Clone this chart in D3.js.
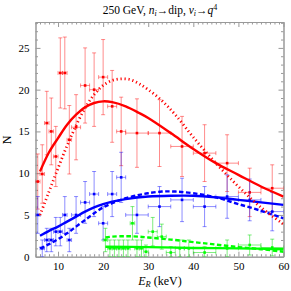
<!DOCTYPE html>
<html><head><meta charset="utf-8">
<script src="https://cdn.jsdelivr.net/npm/d3@7"></script>
<style>
html,body{margin:0;padding:0;background:#fff;}
svg{display:block;}
text{font-family:"Liberation Serif","Times New Roman",serif;}
</style></head>
<body>
<div id="chart"></div>
<script>
// ---- data ----
const redE   = [5.5, 6.5, 7.5, 8.5, 9.5, 10.5, 11.5, 12.5, 14, 16, 18, 20, 22, 24, 27.5, 32.5, 37.5, 42.5, 47.5, 52.5, 57.5];
const redN   = [9, 9.9, 16, 15, 12, 22, 22, 14, 15.5, 20.5, 20, 21.5, 18, 15, 14.8, 14.8, 13.2, 12.4, 11.2, 7.7, 8.2];
const redXE  = [0.5, 0.5, 0.5, 0.5, 0.5, 0.5, 0.5, 0.5, 1, 1, 1, 1, 1, 1, 2.5, 2.5, 2.5, 2.5, 2.5, 2.5, 2.5];
const redYE  = [3.3, 3.5, 3.8, 4.0, 3.6, 4.2, 4.3, 4.1, 3.9, 4.5, 4.4, 4.5, 4.3, 4.1, 4.1, 4.0, 3.6, 3.4, 3.4, 2.9, 2.8];

const blueE  = [5.5, 6.5, 7.5, 8.5, 9.5, 10.5, 11.5, 12.5, 14, 16, 18, 20, 22, 24, 27.5, 32.5, 37.5, 42.5, 47.5, 52.5, 57.5];
const blueN  = [5, 1, 2, 2, 3, 3, 5, 2, 5, 6.5, 7.5, 4, 7.5, 9.5, 5, 6, 6.8, 6, 7.2, 6.8, 5.4];
const blueXE = [0.5, 0.5, 0.5, 0.5, 0.5, 0.5, 0.5, 0.5, 1, 1, 1, 1, 1, 1, 2.5, 2.5, 2.5, 2.5, 2.5, 2.5, 2.5];
const blueYE = [2.2, 1.0, 1.4, 1.4, 1.7, 1.7, 2.2, 1.4, 2.2, 2.5, 2.7, 2.0, 2.7, 3.0, 2.2, 2.4, 2.6, 2.4, 2.6, 2.5, 2.3];

const greenE  = [20.5, 21.5, 22.5, 23.5, 24.5, 25.5, 26.5, 27.5, 28.5, 29.5, 31, 33, 35, 37, 39, 42.5, 47.5, 52.5, 57.5];
const greenN  = [2, 1, 1, 1, 1, 1, 4, 1, 1, 0.6, 3, 2.4, 0.5, 1, 1, 0.5, 1, 1.4, 1.1];
const greenXE = [0.5, 0.5, 0.5, 0.5, 0.5, 0.5, 0.5, 0.5, 0.5, 0.5, 1, 1, 1, 1, 1, 2.5, 2.5, 2.5, 2.5];
const greenYE = [1.4, 1, 1, 1, 1, 1, 2, 1, 1, 0.8, 1.7, 1.5, 0.7, 1, 1, 0.7, 1, 1.2, 1];

const redSolidE  = [6, 8, 10, 12, 14, 16, 18, 20, 22, 25, 28, 30, 35, 40, 45, 50, 55, 60];
const redSolidN  = [10.2, 12.5, 14.2, 15.8, 17.0, 17.9, 18.4, 18.6, 18.5, 18.0, 17.2, 16.6, 14.8, 12.9, 11.2, 9.8, 8.4, 7.2];
const redDotE    = [6, 8, 10, 12, 14, 16, 18, 20, 22, 24, 26, 28, 30, 33, 36, 40, 45, 50, 55, 60];
const redDotN    = [5.0, 7.8, 10.6, 13.3, 15.7, 17.8, 19.4, 20.5, 21.1, 21.3, 21.2, 20.7, 20.0, 18.7, 17.0, 14.3, 11.2, 8.4, 5.9, 3.9];
const blueSolidE = [6, 8, 10, 12, 14, 16, 18, 20, 22, 25, 30, 35, 40, 45, 50, 55, 60];
const blueSolidN = [2.5, 3.1, 3.6, 4.2, 4.8, 5.4, 5.9, 6.3, 6.6, 6.9, 7.2, 7.3, 7.3, 7.1, 6.8, 6.5, 6.2];
const blueDashE  = [6, 8, 10, 12, 14, 16, 18, 20, 22, 25, 28, 30, 33, 36, 40, 45, 50, 55, 60];
const blueDashN  = [1.0, 1.5, 2.1, 2.8, 3.6, 4.4, 5.2, 5.9, 6.4, 7.0, 7.4, 7.6, 7.8, 7.8, 7.6, 7.1, 6.3, 5.5, 4.6];
const greenSolidE = [20.5, 30, 40, 50, 60];
const greenSolidN = [1.2, 1.15, 1.05, 1.0, 0.9];
const greenDashE  = [20.5, 22, 25, 28, 30, 35, 40, 45, 50, 55, 60];
const greenDashN  = [2.3, 2.4, 2.45, 2.4, 2.3, 2.05, 1.75, 1.45, 1.15, 0.9, 0.6];

const xTicks = [10, 20, 30, 40, 50, 60];
const yTicks = [0, 5, 10, 15, 20, 25];

// ---- layout ----
const W = 291, H = 291;
const L = 35.5, R = 283.5, T = 22, B = 256.7;
const svg = d3.select("#chart").append("svg").attr("width", W).attr("height", H);
const x = d3.scaleLinear().domain([5, 60]).range([L, R]);
const y = d3.scaleLinear().domain([0, 28.1]).range([B, T]);

svg.append("defs").append("clipPath").attr("id", "clip")
  .append("rect").attr("x", L).attr("y", T).attr("width", R - L).attr("height", B - T);

const frameColor = "#999";
const xMinor = d3.range(5, 61, 1).filter(v => v % 10 !== 0);
const yMinor = d3.range(0, 28.1, 1).filter(v => v % 5 !== 0);

function styleAxis(g) {
  g.select(".domain").attr("stroke", frameColor);
  g.selectAll(".tick line").attr("stroke", frameColor);
  g.selectAll("text").attr("fill", "#000").style("font-size", "11px").style("font-family", "Liberation Serif");
}
// bottom
svg.append("g").attr("transform", `translate(0,${B})`)
  .call(d3.axisBottom(x).tickValues(xTicks).tickSize(-5).tickSizeOuter(0).tickPadding(6).tickFormat(d3.format("d"))).call(styleAxis);
svg.append("g").attr("transform", `translate(0,${B})`)
  .call(d3.axisBottom(x).tickValues(xMinor).tickSize(-2.5).tickSizeOuter(0).tickFormat("")).call(styleAxis);
// top
svg.append("g").attr("transform", `translate(0,${T})`)
  .call(d3.axisTop(x).tickValues(xTicks).tickSize(-5).tickSizeOuter(0).tickFormat("")).call(styleAxis);
svg.append("g").attr("transform", `translate(0,${T})`)
  .call(d3.axisTop(x).tickValues(xMinor).tickSize(-2.5).tickSizeOuter(0).tickFormat("")).call(styleAxis);
// left
svg.append("g").attr("transform", `translate(${L},0)`)
  .call(d3.axisLeft(y).tickValues(yTicks).tickSize(-5).tickSizeOuter(0).tickPadding(6).tickFormat(d3.format("d"))).call(styleAxis);
svg.append("g").attr("transform", `translate(${L},0)`)
  .call(d3.axisLeft(y).tickValues(yMinor).tickSize(-2.5).tickSizeOuter(0).tickFormat("")).call(styleAxis);
// right
svg.append("g").attr("transform", `translate(${R},0)`)
  .call(d3.axisRight(y).tickValues(yTicks).tickSize(-5).tickSizeOuter(0).tickFormat("")).call(styleAxis);
svg.append("g").attr("transform", `translate(${R},0)`)
  .call(d3.axisRight(y).tickValues(yMinor).tickSize(-2.5).tickSizeOuter(0).tickFormat("")).call(styleAxis);

const plot = svg.append("g").attr("clip-path", "url(#clip)");

function drawData(E, N, XE, YE, color, barColor) {
  const d = E.map((e, i) => ({e, n: N[i], xe: XE[i], ye: YE[i]}));
  const g = plot.append("g").attr("stroke", barColor).attr("stroke-width", 1).attr("fill", "none");
  const cap = 2;
  d.forEach(p => {
    const cx = x(p.e), cy = y(p.n);
    const y0 = y(Math.max(0, p.n - p.ye)), y1 = y(p.n + p.ye);
    const x0 = x(p.e - p.xe), x1 = x(p.e + p.xe);
    g.append("line").attr("x1", cx).attr("x2", cx).attr("y1", y0).attr("y2", y1);
    g.append("line").attr("x1", cx - cap).attr("x2", cx + cap).attr("y1", y0).attr("y2", y0);
    g.append("line").attr("x1", cx - cap).attr("x2", cx + cap).attr("y1", y1).attr("y2", y1);
    g.append("line").attr("x1", x0).attr("x2", x1).attr("y1", cy).attr("y2", cy);
    g.append("line").attr("x1", x0).attr("x2", x0).attr("y1", cy - cap).attr("y2", cy + cap);
    g.append("line").attr("x1", x1).attr("x2", x1).attr("y1", cy - cap).attr("y2", cy + cap);
  });
  plot.append("g").selectAll("rect").data(d).join("rect")
    .attr("x", p => x(p.e) - 1.3).attr("y", p => y(p.n) - 1.3)
    .attr("width", 2.6).attr("height", 2.6).attr("fill", color);
}
drawData(redE, redN, redXE, redYE, "#f00", "rgba(255,0,0,0.45)");
drawData(blueE, blueN, blueXE, blueYE, "#00f", "rgba(0,0,255,0.45)");
drawData(greenE, greenN, greenXE, greenYE, "#0f0", "rgba(0,220,0,0.5)");

const line = d3.line().x(d => x(d[0])).y(d => y(d[1])).curve(d3.curveCatmullRom.alpha(0.5));
function curve(E, N, color, dash, cap, sw) {
  plot.append("path").datum(E.map((e, i) => [e, N[i]]))
    .attr("d", line).attr("fill", "none").attr("stroke", color)
    .attr("stroke-width", sw || 2.4).attr("stroke-dasharray", dash || null)
    .attr("stroke-linecap", cap || "butt");
}
curve(greenSolidE, greenSolidN, "#0f0");
curve(greenDashE, greenDashN, "#0f0", "4.5,2.5");
curve(blueSolidE, blueSolidN, "#00f");
curve(blueDashE, blueDashN, "#00f", "4.5,2.5");
curve(redSolidE, redSolidN, "#f00");
curve(redDotE, redDotN, "#f00", "1.2,2.8", "butt", 2.8);

// ---- texts ----
const title = svg.append("text").attr("x", 160).attr("y", 14).attr("text-anchor", "middle")
  .style("font-size", "11.5px");
title.append("tspan").text("250 GeV, ");
title.append("tspan").attr("font-style", "italic").text("n");
title.append("tspan").attr("font-style", "italic").attr("baseline-shift", "-25%").style("font-size", "8px").text("i");
title.append("tspan").text("\u2192dip, ");
title.append("tspan").attr("font-style", "italic").text("v");
title.append("tspan").attr("font-style", "italic").attr("baseline-shift", "-25%").style("font-size", "8px").text("i");
title.append("tspan").text("\u2192");
title.append("tspan").attr("font-style", "italic").text("q");
title.append("tspan").attr("baseline-shift", "super").style("font-size", "8px").text("4");

const xl = svg.append("text").attr("x", 160).attr("y", 285).attr("text-anchor", "middle").style("font-size", "12px");
xl.append("tspan").attr("font-style", "italic").text("E");
xl.append("tspan").attr("font-style", "italic").attr("baseline-shift", "-25%").style("font-size", "8.5px").text("R");
xl.append("tspan").text(" (keV)");

svg.append("text").attr("transform", "translate(11,140) rotate(-90)").attr("text-anchor", "middle")
  .style("font-size", "12px").text("N");
</script>
</body></html>
